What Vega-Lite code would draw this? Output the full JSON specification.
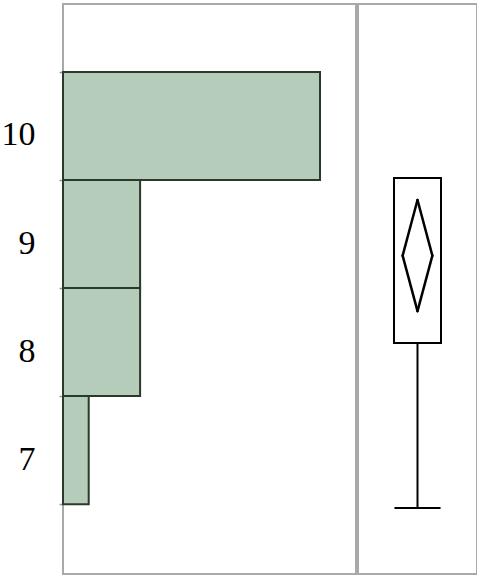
{
  "$schema": "https://vega.github.io/schema/vega-lite/v6.json",
  "padding": {"left": 0, "top": 3, "right": 0, "bottom": 0},
  "background": "white",
  "spacing": 0,
  "config": {
    "view": {"stroke": "#a9a9a9", "strokeWidth": 2},
    "font": "Liberation Serif"
  },
  "hconcat": [
    {
      "width": 293,
      "height": 570,
      "data": {
        "values": [
          {"bin_start": 7, "bin_end": 8, "count": 1},
          {"bin_start": 8, "bin_end": 9, "count": 3},
          {"bin_start": 9, "bin_end": 10, "count": 3},
          {"bin_start": 10, "bin_end": 11, "count": 10}
        ]
      },
      "mark": {"type": "bar", "fill": "#b5ccba", "stroke": "#2a3a2a", "strokeWidth": 2, "orient": "horizontal"},
      "encoding": {
        "y": {
          "field": "bin_start",
          "type": "quantitative",
          "scale": {"domain": [6.4, 11.582], "nice": false, "zero": false},
          "axis": {
            "values": [7, 8, 9, 10, 11],
            "labelExpr": "datum.value < 11 ? datum.label : ''",
            "labelOffset": -45,
            "labelFontSize": 34,
            "labelFont": "Liberation Serif",
            "labelColor": "black",
            "labelPadding": 24,
            "labelBaseline": "middle",
            "tickSize": 4,
            "tickColor": "#999999",
            "tickWidth": 1.5,
            "domain": false,
            "grid": false,
            "title": null
          }
        },
        "y2": {"field": "bin_end"},
        "x": {"field": "count", "type": "quantitative", "scale": {"domain": [0, 11.4], "nice": false}, "axis": null}
      }
    },
    {
      "width": 119,
      "height": 570,
      "data": {
        "values": [
          {"min": 7, "q1": 8.5, "median": 10, "q3": 10, "max": 10, "mean": 9.294, "ci_lo": 8.79, "ci_hi": 9.8}
        ]
      },
      "layer": [
        {
          "mark": {"type": "rule", "stroke": "black", "strokeWidth": 2},
          "encoding": {
            "x": {"datum": 0, "type": "quantitative", "scale": {"domain": [-4, 4], "nice": false}, "axis": null},
            "y": {"field": "min", "type": "quantitative", "scale": {"domain": [6.4, 11.582], "nice": false, "zero": false}, "axis": null},
            "y2": {"field": "q1"}
          }
        },
        {
          "mark": {"type": "rule", "stroke": "black", "strokeWidth": 2},
          "encoding": {
            "x": {"datum": -1.55, "type": "quantitative", "scale": {"domain": [-4, 4], "nice": false}, "axis": null},
            "x2": {"datum": 1.55},
            "y": {"field": "min", "type": "quantitative", "scale": {"domain": [6.4, 11.582], "nice": false, "zero": false}, "axis": null}
          }
        },
        {
          "mark": {"type": "rect", "fill": "white", "stroke": "black", "strokeWidth": 2},
          "encoding": {
            "x": {"datum": -1.58, "type": "quantitative", "scale": {"domain": [-4, 4], "nice": false}, "axis": null},
            "x2": {"datum": 1.58},
            "y": {"field": "q1", "type": "quantitative", "scale": {"domain": [6.4, 11.582], "nice": false, "zero": false}, "axis": null},
            "y2": {"field": "q3"}
          }
        },
        {
          "mark": {"type": "rule", "stroke": "black", "strokeWidth": 2.5, "strokeCap": "round"},
          "encoding": {
            "x": {"datum": 0, "type": "quantitative", "scale": {"domain": [-4, 4], "nice": false}, "axis": null},
            "x2": {"datum": 1},
            "y": {"field": "ci_hi", "type": "quantitative", "scale": {"domain": [6.4, 11.582], "nice": false, "zero": false}, "axis": null},
            "y2": {"field": "mean"}
          }
        },
        {
          "mark": {"type": "rule", "stroke": "black", "strokeWidth": 2.5, "strokeCap": "round"},
          "encoding": {
            "x": {"datum": 1, "type": "quantitative", "scale": {"domain": [-4, 4], "nice": false}, "axis": null},
            "x2": {"datum": 0},
            "y": {"field": "mean", "type": "quantitative", "scale": {"domain": [6.4, 11.582], "nice": false, "zero": false}, "axis": null},
            "y2": {"field": "ci_lo"}
          }
        },
        {
          "mark": {"type": "rule", "stroke": "black", "strokeWidth": 2.5, "strokeCap": "round"},
          "encoding": {
            "x": {"datum": 0, "type": "quantitative", "scale": {"domain": [-4, 4], "nice": false}, "axis": null},
            "x2": {"datum": -1},
            "y": {"field": "ci_lo", "type": "quantitative", "scale": {"domain": [6.4, 11.582], "nice": false, "zero": false}, "axis": null},
            "y2": {"field": "mean"}
          }
        },
        {
          "mark": {"type": "rule", "stroke": "black", "strokeWidth": 2.5, "strokeCap": "round"},
          "encoding": {
            "x": {"datum": -1, "type": "quantitative", "scale": {"domain": [-4, 4], "nice": false}, "axis": null},
            "x2": {"datum": 0},
            "y": {"field": "mean", "type": "quantitative", "scale": {"domain": [6.4, 11.582], "nice": false, "zero": false}, "axis": null},
            "y2": {"field": "ci_hi"}
          }
        }
      ]
    }
  ]
}
